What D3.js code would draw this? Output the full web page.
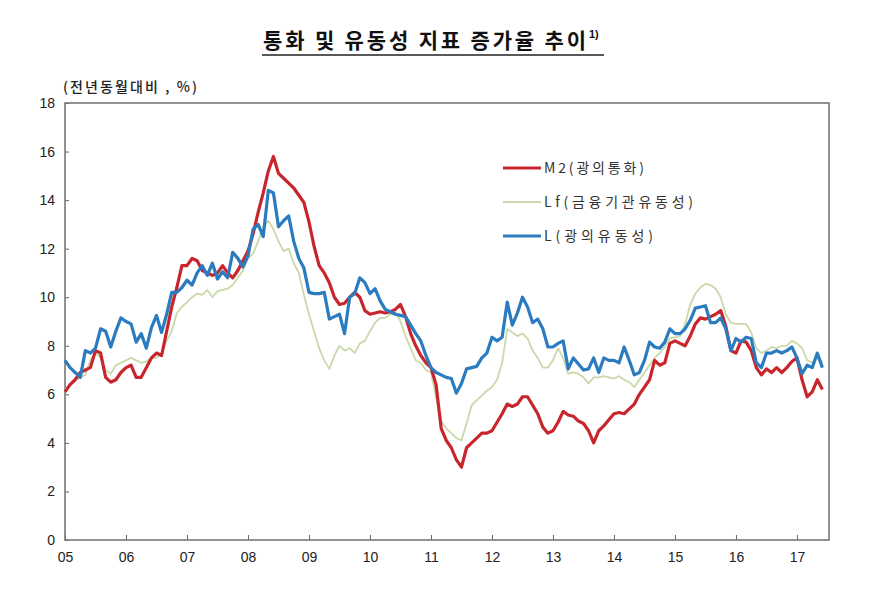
<!DOCTYPE html>
<html><head><meta charset="utf-8">
<script src="https://cdn.jsdelivr.net/npm/d3@7"></script>
<style>
body{margin:0;background:#fff;}
svg{display:block;}
</style></head>
<body><svg id="c" width="892" height="591"></svg>
<script>
// Monthly data, Jan 2005 .. Jun 2017 (y/y growth, %)
const yearLabels = ["05","06","07","08","09","10","11","12","13","14","15","16","17"];
const yTicks = [0,2,4,6,8,10,12,14,16,18];
const seriesNames = ["M2(광의통화)","Lf(금융기관유동성)","L(광의유동성)"];

const m2 = [
 6.1,6.4,6.6,6.9,7.0,7.1,7.8,7.7,6.7,6.5,6.6,6.9,
 7.1,7.2,6.7,6.7,7.1,7.5,7.7,7.6,8.6,9.6,10.4,11.3,
 11.3,11.6,11.5,11.1,11.0,10.9,11.0,11.3,11.0,10.8,11.1,11.5,
 11.9,12.6,13.5,14.3,15.2,15.8,15.1,14.9,14.7,14.5,14.2,13.9,
 13.1,12.1,11.3,11.0,10.6,10.0,9.7,9.75,10.0,10.2,10.0,9.45,
 9.3,9.35,9.4,9.35,9.4,9.5,9.7,9.2,8.5,8.0,7.6,7.3,
 7.1,6.4,4.6,4.1,3.8,3.3,3.0,3.8,4.0,4.2,4.4,4.4,
 4.5,4.85,5.2,5.6,5.5,5.6,5.9,5.9,5.55,5.2,4.65,4.4,
 4.5,4.85,5.3,5.15,5.1,4.9,4.8,4.5,4.0,4.5,4.7,4.95,
 5.2,5.25,5.2,5.4,5.6,6.0,6.3,6.6,7.4,7.2,7.3,8.1,
 8.2,8.1,8.0,8.4,8.9,9.15,9.1,9.2,9.3,9.45,8.8,7.8,
 7.7,8.2,8.15,7.8,7.1,6.8,7.05,6.9,7.1,6.9,7.1,7.35,
 7.5,6.6,5.9,6.1,6.6,6.2
];
const lf = [
 6.2,6.4,6.6,6.7,6.8,7.4,7.7,7.5,7.0,6.85,7.2,7.3,
 7.4,7.5,7.4,7.3,7.35,7.5,7.5,7.7,8.2,8.6,9.35,9.6,
 9.8,10.0,10.15,10.1,10.3,10.0,10.25,10.3,10.35,10.5,10.8,11.1,
 11.6,11.8,12.3,12.9,13.15,12.8,12.3,11.9,12.0,11.4,11.0,10.1,
 9.3,8.6,7.9,7.4,7.05,7.6,8.0,7.8,7.9,7.7,8.1,8.2,
 8.6,8.95,9.15,9.15,9.3,9.4,9.0,8.4,7.9,7.4,7.3,7.0,
 6.9,5.9,4.9,4.6,4.4,4.2,4.1,4.8,5.55,5.75,5.95,6.15,
 6.3,6.6,7.3,8.7,8.55,8.4,8.5,8.3,7.8,7.5,7.1,7.1,
 7.4,7.9,7.5,6.85,6.9,6.85,6.7,6.45,6.7,6.7,6.75,6.7,
 6.65,6.75,6.6,6.5,6.3,6.6,6.9,7.2,7.5,7.7,7.95,8.3,
 8.35,8.4,8.9,9.7,10.15,10.4,10.55,10.5,10.35,10.0,9.3,8.95,
 8.9,8.9,8.9,8.55,7.9,7.7,7.8,7.95,7.9,8.0,8.0,8.2,
 8.1,7.9,7.4,7.3,7.5,7.3
];
const lw = [
 7.4,7.1,6.9,6.7,7.8,7.7,7.9,8.7,8.6,7.95,8.6,9.15,
 9.0,8.9,8.15,8.5,7.9,8.75,9.25,8.55,9.3,10.2,10.2,10.4,
 10.7,10.5,11.0,11.3,10.9,11.4,10.75,11.05,10.8,11.85,11.6,11.25,
 11.7,12.8,13.0,12.5,14.4,14.3,12.9,13.15,13.35,12.3,11.6,11.2,
 10.2,10.15,10.15,10.2,9.1,9.2,9.3,8.5,10.0,10.15,10.8,10.6,
 10.15,10.35,9.85,9.5,9.4,9.3,9.25,9.2,8.85,8.5,8.2,7.6,
 7.1,6.9,6.8,6.7,6.65,6.05,6.45,7.05,7.1,7.15,7.5,7.7,
 8.35,8.2,8.35,9.8,8.85,9.35,10.0,9.6,8.95,9.1,8.7,7.95,
 7.95,8.1,8.2,7.05,7.5,7.25,7.0,7.05,7.5,6.9,7.5,7.4,
 7.4,7.3,7.95,7.4,6.8,6.9,7.4,8.15,7.95,7.9,8.15,8.7,
 8.5,8.5,8.7,9.05,9.55,9.6,9.65,8.95,8.95,9.15,8.7,7.8,
 8.3,8.15,8.35,8.3,7.3,7.1,7.7,7.7,7.8,7.7,7.8,7.95,
 7.5,6.85,7.2,7.1,7.7,7.1
];

const svg = d3.select("#c");
const L = 65, R = 829, T = 103, B = 540;
const x = d3.scaleLinear().domain([0, 150.3]).range([L, R]);
const y = d3.scaleLinear().domain([0, 18]).range([B, T]);
const font = "'Liberation Sans Narrow','Liberation Sans',Arial,sans-serif";
const kfont = "'Noto Sans CJK KR','Noto Sans',sans-serif";

// title
svg.append("text").attr("x", 263).attr("y", 48)
  .attr("font-family",kfont).attr("textLength",323).attr("lengthAdjust","spacing")
  .attr("font-size",21).attr("font-weight","bold").attr("fill","#111")
  .text("통화 및 유동성 지표 증가율 추이");
svg.append("text").attr("x", 589).attr("y", 38).attr("font-family",font)
  .attr("font-size",11).attr("font-weight","bold").attr("fill","#111").text("1)");
svg.append("line").attr("x1",262).attr("x2",604).attr("y1",55).attr("y2",55)
  .attr("stroke","#222").attr("stroke-width",1.6);

// unit label
svg.append("text").attr("x", 63).attr("y", 92).attr("font-family",kfont)
  .attr("font-size",14).attr("fill","#222").attr("font-weight","500")
  .attr("textLength",134).attr("lengthAdjust","spacing")
  .text("(전년동월대비 , %)");

// y axis
const yAxis = d3.axisLeft(y).tickValues(yTicks).tickSize(-4).tickPadding(10)
  .tickFormat(d3.format("d"));
const gy = svg.append("g").attr("transform",`translate(${L},0)`).call(yAxis);
gy.select(".domain").remove();
gy.selectAll("line").attr("stroke","#666");
gy.selectAll("text").attr("font-family",font).attr("font-size",14).attr("fill","#222");

// x axis
const xAxis = d3.axisBottom(x).tickValues(d3.range(0,13).map(i=>i*12))
  .tickSize(-5).tickPadding(12).tickFormat((d,i)=>yearLabels[i]);
const gx = svg.append("g").attr("transform",`translate(0,${B})`).call(xAxis);
gx.select(".domain").remove();
gx.selectAll("line").attr("stroke","#666");
gx.selectAll("text").attr("font-family",font).attr("font-size",14).attr("fill","#222");

// frame
svg.append("rect").attr("x",L).attr("y",T).attr("width",R-L).attr("height",B-T)
  .attr("fill","none").attr("stroke","#777").attr("stroke-width",1.6);

const line = d3.line().x((d,i)=>x(i)).y(d=>y(d));
const colors = ["#c8262c","#c9d9a9","#2a7bbf"];
const widths = [3.2,1.8,3.2];
const data = [m2, lf, lw];
[1,0,2].forEach(k=>{
  svg.append("path").datum(data[k]).attr("d",line).attr("fill","none")
    .attr("stroke",colors[k]).attr("stroke-width",widths[k])
    .attr("stroke-linejoin","round");
});

// legend
const ly = [168,202,236];
const lLen = [100,149,109];
seriesNames.forEach((n,i)=>{
  svg.append("line").attr("x1",503).attr("x2",541).attr("y1",ly[i]).attr("y2",ly[i])
    .attr("stroke",colors[i]).attr("stroke-width",i===1?1.8:3);
  svg.append("text").attr("x",544).attr("y",ly[i]+5).attr("font-family",kfont)
    .attr("font-size",14).attr("fill","#333")
    .attr("textLength",lLen[i]).attr("lengthAdjust","spacing").text(n);
});
</script></body></html>
